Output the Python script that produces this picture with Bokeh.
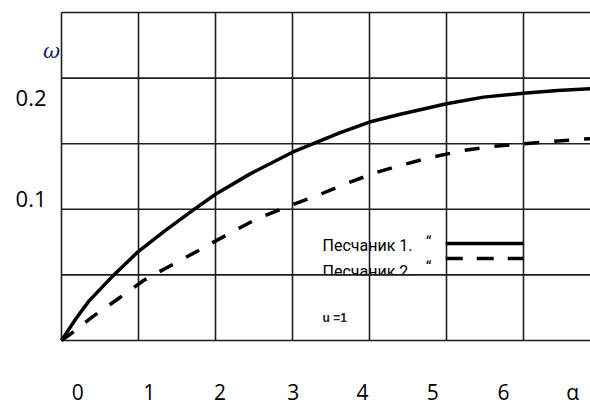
from bokeh.plotting import figure
from bokeh.models import Range1d
from bokeh.core.properties import value
from bokeh.embed import file_html
from bokeh.resources import INLINE

# ---- data ----
alpha_1 = [0, 0.18, 0.355, 0.68, 1.0, 1.35, 1.70, 2.0, 2.45, 3.0, 3.62, 4.0, 4.4, 5.0, 5.48, 6.0, 6.44, 6.9]
omega_1 = [0, 0.016, 0.030, 0.050, 0.068, 0.084, 0.099, 0.1115, 0.127, 0.1435, 0.1585, 0.1665, 0.1725, 0.1805, 0.1855, 0.1885, 0.1905, 0.192]

alpha_2 = [0, 0.12, 0.40, 0.74, 1.065, 1.42, 1.78, 2.13, 2.54, 2.97, 3.32, 3.71, 4.10, 4.40, 4.79, 5.22, 5.57, 6.0, 6.44, 6.9]
omega_2 = [0, 0.005, 0.018, 0.032, 0.0457, 0.0572, 0.0686, 0.080, 0.0928, 0.1029, 0.1105, 0.1199, 0.1283, 0.1334, 0.1395, 0.1448, 0.1478, 0.150, 0.152, 0.154]

series_names = ["Песчаник 1.", "Песчаник 2."]
note_text = "u =1"

x_tick_labels = ["0", "1", "2", "3", "4", "5", "6", "α"]
x_tick_pos = [0.21, 1.14, 2.06, 3.01, 3.91, 4.82, 5.74, 6.64]
y_tick_labels = ["0.1", "0.2"]
y_tick_pos = [0.1075, 0.1848]
y_title = "ω"

grid_x = [0, 1, 2, 3, 4, 5, 6, 7]
grid_y = [0, 0.05, 0.10, 0.15, 0.20, 0.25]

# ---- layout ----
W, H = 590, 405
PX_X = 77.0          # px per alpha unit
PX_Y = 65.6 / 0.05   # px per omega unit
OX, OY = 61, 340     # pixel of the origin

p = figure(width=W, height=H, output_backend="svg", toolbar_location=None,
           x_axis_type=None, y_axis_type=None,
           x_range=Range1d(-OX / PX_X, (W - OX) / PX_X),
           y_range=Range1d((OY - H) / PX_Y, OY / PX_Y),
           min_border=0)
p.outline_line_color = None
p.background_fill_color = "white"
p.border_fill_color = "white"
p.xgrid.visible = False
p.ygrid.visible = False

grid_color = "#1e1e1e"
grid_w = 1.6
txt = "#000000"

# legend texts (drawn below the grid lines)
leg_font = value("Roboto")
p.text(x=[3.39, 3.39], y=[0.0724, 0.0528], text=series_names,
       text_font=leg_font, text_font_size="16px", text_baseline="middle",
       text_color=txt)
p.text(x=[4.73, 4.73], y=[0.0750, 0.0554], text=["“", "“"],
       text_font=leg_font, text_font_size="16px", text_baseline="middle",
       text_color=txt)
# the original cuts the bottom of the second label
p.quad(left=3.3, right=4.7, top=0.0495, bottom=0.0430, fill_color="white", line_color=None)

# grid
p.multi_line(xs=[[g, g] for g in grid_x], ys=[[grid_y[0], grid_y[-1]]] * len(grid_x),
             line_color=grid_color, line_width=grid_w)
p.multi_line(xs=[[grid_x[0], grid_x[-1]]] * len(grid_y), ys=[[g, g] for g in grid_y],
             line_color=grid_color, line_width=grid_w)

# curves
p.line(alpha_1, omega_1, line_color="black", line_width=3.5, line_join="round")
p.line(alpha_2, omega_2, line_color="black", line_width=3.5, line_dash="15 15")

# legend keys
p.line([4.99, 6.0], [0.0739, 0.0739], line_color="black", line_width=3.5)
p.line([4.99, 6.0], [0.0625, 0.0625], line_color="black", line_width=3.5, line_dash="17 14")

p.text(x=[3.39], y=[0.0175], text=[note_text], text_font=value("Liberation Sans"),
       text_font_size="12px", text_font_style="bold", text_baseline="middle",
       text_color="#222222")

# tick labels
tick_font = value("Open Sans")
p.text(x=x_tick_pos, y=[(OY - 391) / PX_Y] * len(x_tick_pos), text=x_tick_labels,
       text_font=tick_font, text_font_size="21px", text_align="center",
       text_baseline="middle", text_color=txt)
p.text(x=[-0.195] * len(y_tick_pos), y=y_tick_pos, text=y_tick_labels,
       text_font=tick_font, text_font_size="22px", text_align="right",
       text_baseline="middle", text_color=txt)
p.text(x=[-0.13], y=[0.221], text=[y_title], text_font=value("DejaVu Serif"),
       text_font_size="21px", text_font_style="italic", text_align="center",
       text_baseline="middle", text_color="#1a2a5a")

open("out.html", "w").write(file_html(p, INLINE))
